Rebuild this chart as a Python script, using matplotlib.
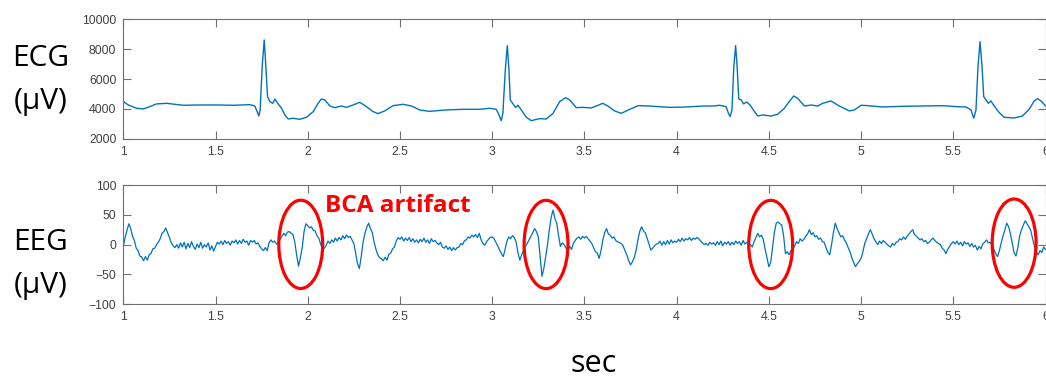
import numpy as np
import matplotlib
matplotlib.use("Agg")
import matplotlib.pyplot as plt
from matplotlib.patches import Ellipse

# ---------------- data ----------------
ecg_t = [1.000, 1.027, 1.072, 1.108, 1.144, 1.180, 1.235, 1.325, 1.415, 1.506, 1.596, 1.686,
         1.713, 1.726, 1.735, 1.742, 1.753, 1.764, 1.773, 1.782, 1.795, 1.810, 1.822, 1.834,
         1.858, 1.876, 1.894, 1.920, 1.957, 1.993, 2.030, 2.056, 2.074, 2.092, 2.120, 2.147,
         2.183, 2.210, 2.246, 2.282, 2.318, 2.354, 2.381, 2.417, 2.463, 2.517, 2.562, 2.607,
         2.660, 2.750, 2.842, 2.932, 2.986, 3.022, 3.037, 3.049, 3.058, 3.071, 3.082, 3.091,
         3.098, 3.113, 3.127, 3.140, 3.158, 3.185, 3.212, 3.257, 3.293, 3.330, 3.366, 3.398,
         3.420, 3.456, 3.492, 3.538, 3.564, 3.600, 3.627, 3.664, 3.700, 3.746, 3.791, 3.853,
         3.962, 4.052, 4.142, 4.196, 4.232, 4.268, 4.281, 4.290, 4.300, 4.310, 4.320, 4.328,
         4.337, 4.350, 4.363, 4.380, 4.398, 4.422, 4.440, 4.467, 4.512, 4.548, 4.584, 4.611,
         4.635, 4.656, 4.693, 4.729, 4.765, 4.792, 4.837, 4.882, 4.937, 4.964, 5.000, 5.036,
         5.117, 5.226, 5.334, 5.443, 5.515, 5.569, 5.596, 5.611, 5.623, 5.634, 5.645, 5.656,
         5.665, 5.677, 5.690, 5.704, 5.722, 5.749, 5.776, 5.830, 5.875, 5.911, 5.939, 5.957,
         5.980, 6.000]
ecg_uv = [4485, 4260, 4040, 3995, 4150, 4330, 4370, 4240, 4260, 4260, 4240, 4280,
          4190, 3810, 3520, 3920, 6830, 8615, 6830, 4820, 4485, 4370, 4660, 4420,
          4040, 3590, 3320, 3370, 3300, 3435, 3815, 4370, 4660, 4600, 4190, 4080,
          4190, 4100, 4260, 4440, 4150, 3815, 3680, 3860, 4215, 4305, 4190, 3925,
          3835, 3925, 3970, 3970, 4040, 3970, 3590, 3210, 3700, 6600, 8235, 6600,
          4600, 4330, 4100, 4240, 3925, 3435, 3210, 3345, 3320, 3700, 4485, 4750,
          4600, 4080, 4100, 4060, 4190, 4370, 4190, 3860, 3700, 3970, 4215, 4190,
          4100, 4125, 4190, 4190, 4240, 4150, 3700, 3480, 3925, 6830, 8235, 6830,
          4660, 4600, 4330, 4460, 4260, 3815, 3520, 3590, 3520, 3635, 4040, 4485,
          4865, 4710, 4190, 4260, 4190, 4370, 4530, 4190, 3860, 3925, 4240, 4215,
          4125, 4170, 4190, 4215, 4150, 4125, 3925, 3370, 3925, 6830, 8500, 6830,
          4820, 4600, 4370, 4530, 4190, 3750, 3435, 3390, 3520, 3970, 4530, 4685,
          4485, 4190]

# EEG sampled every 0.01 s from 1.00 s to 6.00 s
eeg_uv = [
    -3, 12, 24, 35, 27, 14, 7, -6, -10, -19,
    -21, -27, -20, -26, -17, -15, -7, -6, 0, 4,
    10, 19, 22, 28, 20, 12, 3, -2, -5, 0,
    -6, 3, -4, 4, -7, 2, -5, 5, -3, -8,
    1, -5, 4, -6, 0, -4, 3, -9, -2, -11,
    -3, 4, 1, 6, 0, 7, 2, 5, -1, 6,
    3, 8, 1, 7, 2, 9, 4, 6, -1, 7,
    4, 7, 1, 3, -3, -7, -10, -5, -10, 3,
    8, 4, 6, 1, 3, 9, 14, 19, 15, 21,
    22, 19, 17, 4, -18, -36, -22, -5, 22, 35,
    32, 28, 30, 24, 23, 15, 11, 1, -8, -6,
    -1, 6, 2, 8, 4, 11, 6, 12, 8, 15,
    10, 16, 12, 14, 8, 2, -15, -32, -40, -20,
    4, 19, 29, 36, 27, 20, 4, -8, -17, -22,
    -24, -27, -21, -26, -16, -14, -7, -4, 6, 12,
    9, 13, 6, 11, 7, 12, 5, 10, 4, 8,
    3, 9, 5, 11, 4, 8, 2, 10, 5, 7,
    3, 0, 4, -4, -6, -2, -8, -4, -10, -5,
    -9, -5, -4, 2, 0, 7, 8, 13, 11, 16,
    13, 17, 12, 19, 8, 2, -1, 5, 9, 12,
    13, 10, 4, -2, -9, -15, -20, -8, 6, 13,
    10, 15, 12, 4, -14, -26, -17, -9, -3, 2,
    8, 14, 20, 27, 22, 13, -20, -53, -40, -20,
    0, 25, 46, 58, 44, 36, 15, -3, 3, 0,
    -6, -9, -3, -8, 2, 7, 11, 13, 9, 14,
    11, 14, 10, 6, 2, -5, -12, -14, -23, -10,
    8, 20, 27, 18, 16, 11, 13, 7, 5, 3,
    2, -2, -10, -17, -27, -34, -29, -22, -10, 8,
    22, 30, 23, 20, 11, 1, -9, -6, -2, 1,
    2, 6, -1, 5, 0, 7, 1, 8, 3, 6,
    4, 9, 5, 11, 6, 10, 8, 12, 7, 11,
    9, 12, 10, 6, 3, 0, 2, -1, 4, 1,
    3, -1, 5, 0, 6, -2, 4, 1, 5, -1,
    4, 0, 6, 2, 5, -1, 7, 1, 4, 2,
    0, -4, 5, 12, 19, 13, 16, 8, -8, -22,
    -37, -30, -5, 20, 36, 38, 35, 33, 15, -15,
    -12, -17, -10, -8, -2, 5, 2, 10, 6, 9,
    14, 18, 25, 17, 20, 13, 15, 9, 11, 5,
    4, -5, -13, -17, 0, 20, 36, 27, 20, 13,
    15, 8, 3, -5, -12, -22, -30, -37, -32, -28,
    -23, -12, 2, 10, 18, 25, 18, 10, 5, 0,
    6, 2, 7, 4, 1, -2, -4, 2, -1, 4,
    5, 10, 8, 13, 9, 14, 18, 22, 25, 17,
    14, 11, 8, 10, 5, 7, 2, 4, 8, 11,
    7, 4, 2, 0, -6, -9, -15, -8, -3, 2,
    5, 1, 6, 0, 4, -2, 5, 1, 3, -3,
    2, -4, -1, -9, -3, -7, 1, 4, 8, 3,
    4, 0, -8, -15, -20, -10, 3, 15, 25, 36,
    30, 18, 2, -14, -19, -5, 15, 25, 33, 40,
    35, 30, 24, 10, -3, -12, -17, -10, -13, -4,
    -8,
]
eeg_t = np.linspace(1.0, 6.0, len(eeg_uv))

# BCA artifact markers (centre time, centre value)
artifact_t = [1.962, 3.292, 4.510, 5.830]
artifact_uv = [0.5, 0.3, 0.3, 2.5]

x_ticks = [1, 1.5, 2, 2.5, 3, 3.5, 4, 4.5, 5, 5.5, 6]
x_ticklabels = ["1", "1.5", "2", "2.5", "3", "3.5", "4", "4.5", "5", "5.5", "6"]
ecg_yticks = [2000, 4000, 6000, 8000, 10000]
eeg_yticks = [-100, -50, 0, 50, 100]
eeg_yticklabels = ["\u2212100", "\u221250", "0", "50", "100"]

# ---------------- figure ----------------
W, H = 1046, 378
fig = plt.figure(figsize=(W / 100, H / 100), dpi=100)

line_col = "#0072BD"
spine_col = "#707070"
lab_col = "#404040"
tick_font = "Liberation Sans"

def px_axes(left, top, right, bottom):
    return fig.add_axes([left / W, 1 - bottom / H, (right - left) / W, (bottom - top) / H])

ax1 = px_axes(123.3, 19.3, 1045.5, 138.7)
ax2 = px_axes(123.3, 185.0, 1045.5, 304.3)

ax1.plot(ecg_t, ecg_uv, color=line_col, lw=1.0)
ax2.plot(eeg_t, eeg_uv, color=line_col, lw=0.9)

for ax, yt, yl in ((ax1, ecg_yticks, (2000, 10000)), (ax2, eeg_yticks, (-100, 100))):
    ax.set_xlim(1, 6)
    ax.set_ylim(*yl)
    ax.set_xticks(x_ticks)
    ax.set_xticklabels(x_ticklabels)
    ax.set_yticks(yt)
    ax.tick_params(direction="in", top=True, right=True, length=6, width=0.8,
                   colors=spine_col, labelcolor=lab_col, labelsize=8.8, pad=5)
    for s in ax.spines.values():
        s.set_color(spine_col)
        s.set_linewidth(0.8)

ax2.set_yticklabels(eeg_yticklabels)
for ax in (ax1, ax2):
    for lab in ax.get_xticklabels() + ax.get_yticklabels():
        lab.set_fontfamily(tick_font)

for tc, vc in zip(artifact_t, artifact_uv):
    ax2.add_patch(Ellipse((tc, vc), width=0.238, height=148, fill=False,
                          edgecolor="#ff0000", lw=2.3, clip_on=False, zorder=5))

ax2.text(2.093, 55, "BCA artifact", color="#ff0000", fontsize=17.5,
         fontweight="bold", family="Open Sans", ha="left", va="baseline")

big = dict(family="Open Sans", fontsize=21.5, color="black", ha="center", va="center")
fig.text(41 / W, 1 - 58 / H, "ECG", **big)
fig.text(41 / W, 1 - 101 / H, "(\u00b5V)", **big)
fig.text(41 / W, 1 - 242 / H, "EEG", **big)
fig.text(41 / W, 1 - 285 / H, "(\u00b5V)", **big)
fig.text(594 / W, 1 - 364 / H, "sec", family="Open Sans", fontsize=22,
         color="black", ha="center", va="center")

fig.savefig("out.png", dpi=100)
